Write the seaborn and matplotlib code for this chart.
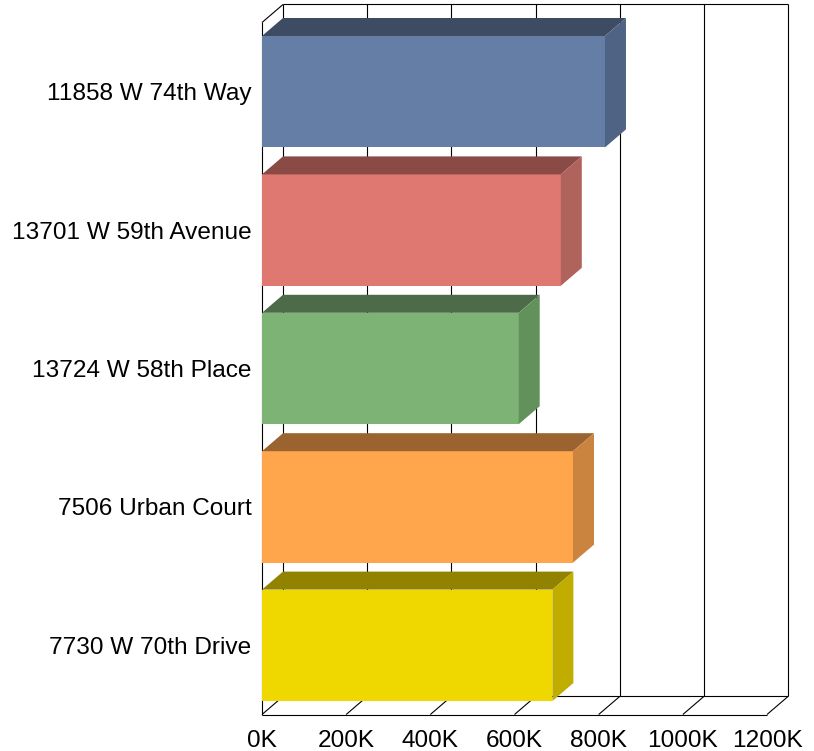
import matplotlib
matplotlib.use("Agg")
import matplotlib.pyplot as plt
from matplotlib.patches import Polygon
import numpy as np
import pandas as pd
import seaborn as sns

# Listing prices per property
addresses = ["11858 W 74th Way", "13701 W 59th Avenue", "13724 W 58th Place",
             "7506 Urban Court", "7730 W 70th Drive"]
prices = [815000, 710000, 610000, 739000, 690000]

# Face shades for the extruded bars: front, top, right side
front_colors = ["#647EA6", "#E07872", "#7DB375", "#FFA64C", "#EED800"]
top_colors = ["#3D4B63", "#8A4A46", "#4D6B48", "#9A6330", "#918300"]
side_colors = ["#4F6385", "#B0625C", "#63915C", "#CB8340", "#C0AD00"]

tick_values = [0, 200000, 400000, 600000, 800000, 1000000, 1200000]
tick_labels = ["0K", "200K", "400K", "600K", "800K", "1000K", "1200K"]

sns.set_theme(style="white")
plt.rcParams["font.family"] = ["Liberation Sans", "DejaVu Sans"]

W, H = 814, 751
fig = plt.figure(figsize=(W / 100, H / 100), dpi=100)
ax = fig.add_axes([262 / W, (H - 714.5) / H, 505 / W, 692 / H])

df = pd.DataFrame({"address": addresses, "price": prices})
sns.barplot(data=df, x="price", y="address", hue="address", palette=front_colors,
            orient="h", width=0.805, saturation=1, errorbar=None, legend=False,
            linewidth=0, ax=ax, zorder=3)

x_max = tick_values[-1]
ax.set_xlim(0, x_max)
ax.set_ylim(len(addresses) - 0.5, -0.5)
ax.set_xticks(tick_values)
ax.set_xticklabels(tick_labels)
ax.set_xlabel("")
ax.set_ylabel("")
for s in ax.spines.values():
    s.set_visible(False)
ax.tick_params(axis="x", length=0, pad=11, labelsize=17.6, colors="black")
ax.tick_params(axis="y", length=0, pad=7.5, labelsize=17.6, colors="black")
ax.patch.set_alpha(0)

# Depth offset of the 3D box, converted from pixels into data units
origin = ax.transData.transform([[0, 0]])[0]
back = ax.transData.inverted().transform([origin + np.array([21.0, 18.0])])[0]
ddx, ddy = back[0], back[1]

y_top, y_bot = -0.5, len(addresses) - 0.5
line_kw = dict(color="black", lw=0.8, clip_on=False, zorder=1,
               solid_capstyle="butt")

# Back wall: frame and vertical gridlines
ax.plot([ddx, x_max + ddx], [y_top + ddy, y_top + ddy], **line_kw)
for t in tick_values:
    ax.plot([t + ddx, t + ddx], [y_top + ddy, y_bot + ddy], **line_kw)

# Floor
ax.plot([0, x_max], [y_bot, y_bot], **line_kw)
ax.plot([ddx, x_max + ddx], [y_bot + ddy, y_bot + ddy], **line_kw)
for t in tick_values:
    ax.plot([t, t + ddx], [y_bot, y_bot + ddy], **line_kw)

# Left wall
ax.plot([0, 0], [y_top, y_bot], **line_kw)
ax.plot([0, ddx], [y_top, y_top + ddy], **line_kw)

# Extrude each bar: top and right faces
for p in ax.patches:
    x0, y0 = p.get_x(), p.get_y()
    x1, y1 = x0 + p.get_width(), y0 + p.get_height()
    idx = int(round((y0 + y1) / 2))
    yt = min(y0, y1)  # upper edge on screen (inverted axis)
    yb = max(y0, y1)
    xr = max(x0, x1)
    xl = min(x0, x1)
    top = Polygon([(xl, yt), (xr, yt), (xr + ddx, yt + ddy), (xl + ddx, yt + ddy)],
                  closed=True, facecolor=top_colors[idx], edgecolor="none",
                  zorder=3, clip_on=False)
    side = Polygon([(xr, yb), (xr, yt), (xr + ddx, yt + ddy), (xr + ddx, yb + ddy)],
                   closed=True, facecolor=side_colors[idx], edgecolor="none",
                   zorder=3, clip_on=False)
    ax.add_patch(top)
    ax.add_patch(side)

fig.savefig("out.png", dpi=100)
